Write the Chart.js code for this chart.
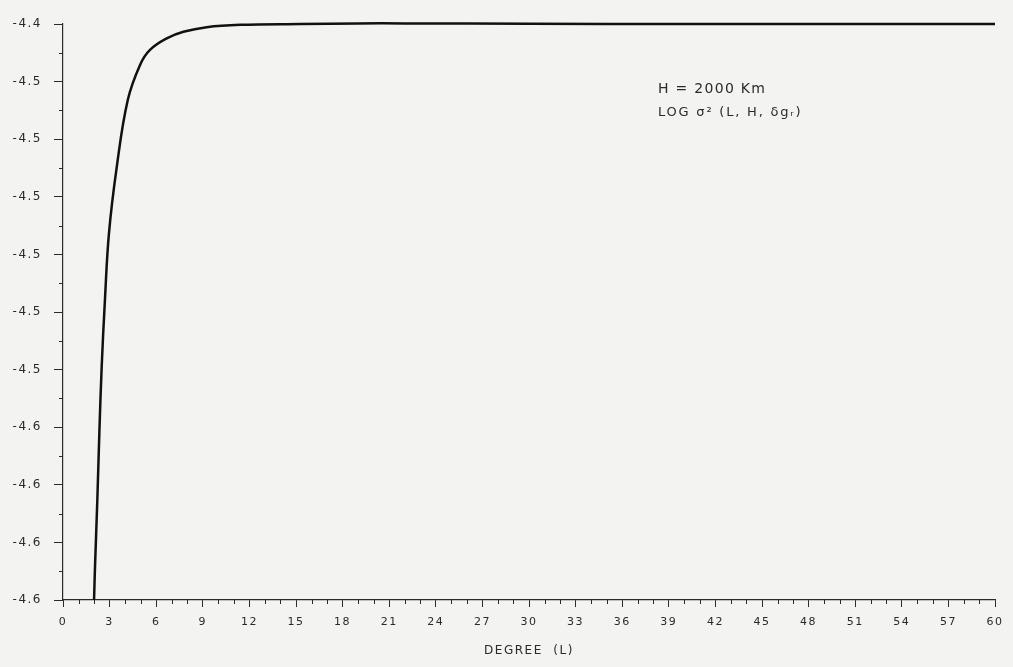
<!DOCTYPE html>
<html>
<head>
<meta charset="utf-8">
<script src="https://cdn.jsdelivr.net/npm/chart.js@4.4.1/dist/chart.umd.min.js"></script>
<style>
  html, body { margin: 0; padding: 0; background: #f3f3f1; }
  #wrap { width: 1013px; height: 667px; }
</style>
</head>
<body>
<div id="wrap"><canvas id="chart" width="1013" height="667"></canvas></div>
<script>
// degree L and log sigma^2
var degrees = [2.0, 2.06, 2.21, 2.34, 2.49, 2.7, 2.96, 3.46, 4.17, 4.96, 5.6, 6.68, 7.75, 9.25, 11.4, 15.3, 19, 22, 30, 40, 50, 60];
var logSigma = [-4.600, -4.5885, -4.5653, -4.542, -4.5191, -4.4958, -4.4726, -4.4497, -4.4264, -4.4142,
  -4.409, -4.405, -4.4027, -4.4011, -4.4003, -4.4000, -4.3998, -4.3998, -4.3999, -4.4000, -4.4000, -4.4000];
// y tick labels as printed, top to bottom
var yTickLabels = ["-4.4", "-4.5", "-4.5", "-4.5", "-4.5", "-4.5", "-4.5", "-4.6", "-4.6", "-4.6", "-4.6"];
var annotationLines = ["H = 2000 Km", "LOG \u03C3\u00B2 (L, H, \u03B4g\u1D63)"];

var ink = "#2a2a2a";
var font = "'DejaVu Sans', sans-serif";

var points = [];
degrees.forEach(function (d, i) {
  points.push({ x: d, y: logSigma[i] });
});

// spaced-out lettering like the plotter font
var spacing = {
  id: "spacing",
  beforeUpdate: function (chart) { chart.ctx.letterSpacing = "1.5px"; },
  beforeDraw: function (chart) { chart.ctx.letterSpacing = "1.5px"; }
};

// short minor ticks and the label block, drawn through the scales
var minorTicks = {
  id: "minorTicks",
  afterDraw: function (chart) {
    var ctx = chart.ctx;
    var xs = chart.scales.x, ys = chart.scales.y;
    ctx.save();
    ctx.strokeStyle = ink;
    ctx.lineWidth = 1;
    ctx.beginPath();
    xs.ticks.forEach(function (t) {
      if (Math.round(t.value) % 3 !== 0) {
        var px = Math.round(xs.getPixelForValue(t.value)) + 0.5;
        ctx.moveTo(px, ys.bottom);
        ctx.lineTo(px, ys.bottom + 4);
      }
    });
    ys.ticks.forEach(function (t, i) {
      if (i % 2 === 1) {
        var py = Math.round(ys.getPixelForValue(t.value)) + 0.5;
        ctx.moveTo(xs.left, py);
        ctx.lineTo(xs.left - 4, py);
      }
    });
    ctx.stroke();
    ctx.fillStyle = ink;
    ctx.textBaseline = "middle";
    var ax = xs.getPixelForValue(38.3);
    ctx.letterSpacing = "1.3px";
    ctx.font = "14px " + font;
    ctx.fillText(annotationLines[0], ax, ys.getPixelForValue(-4.4226));
    ctx.letterSpacing = "1.8px";
    ctx.font = "13px " + font;
    ctx.fillText(annotationLines[1], ax, ys.getPixelForValue(-4.4306));
    ctx.restore();
  }
};

new Chart(document.getElementById("chart"), {
  type: "line",
  data: {
    datasets: [{
      data: points,
      borderColor: "#111",
      borderWidth: 2.5,
      pointRadius: 0,
      fill: false,
      clip: false,
      tension: 0.4
    }]
  },
  options: {
    responsive: false,
    animation: false,
    layout: { padding: { top: 24, right: 18, left: 0, bottom: 0 } },
    plugins: { legend: { display: false }, tooltip: { enabled: false } },
    scales: {
      x: {
        type: "linear",
        min: 0,
        max: 60,
        afterFit: function (s) { s.height = 67; },
        border: { display: true, color: ink, width: 1.2 },
        grid: {
          drawOnChartArea: false,
          tickLength: 7,
          tickColor: function (c) {
            return c.tick && Math.round(c.tick.value) % 3 === 0 ? ink : "rgba(0,0,0,0)";
          }
        },
        ticks: {
          stepSize: 1,
          autoSkip: false,
          maxRotation: 0,
          padding: 9,
          color: ink,
          font: { family: font, size: 11 },
          callback: function (v) { return Math.round(v) % 3 === 0 ? String(Math.round(v)) : ""; }
        },
        title: {
          display: true,
          text: "DEGREE  (L)",
          color: ink,
          font: { family: font, size: 12 },
          padding: { top: 4, bottom: 9 }
        }
      },
      y: {
        type: "linear",
        min: -4.6,
        max: -4.4,
        afterFit: function (s) { s.width = 63; },
        border: { display: true, color: ink, width: 1.2 },
        grid: {
          drawOnChartArea: false,
          tickLength: 9,
          tickColor: function (c) {
            return c.index % 2 === 0 ? ink : "rgba(0,0,0,0)";
          }
        },
        ticks: {
          stepSize: 0.01,
          autoSkip: false,
          padding: 12,
          color: ink,
          font: { family: font, size: 12 },
          callback: function (v, i) { return i % 2 === 0 ? yTickLabels[10 - i / 2] : ""; }
        }
      }
    }
  },
  plugins: [spacing, minorTicks]
});
</script>
</body>
</html>
